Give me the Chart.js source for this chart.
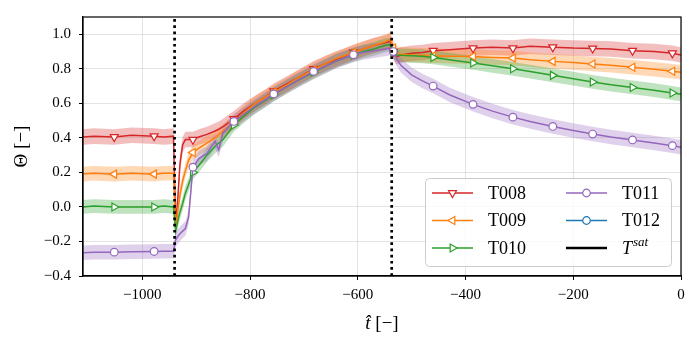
<!DOCTYPE html>
<html>
<head>
<meta charset="utf-8">
<script src="https://cdn.jsdelivr.net/npm/chart.js@4.4.1/dist/chart.umd.min.js"></script>
<style>
  html, body { margin: 0; padding: 0; background: #fff; }
</style>
</head>
<body>
<canvas id="grafico" width="697" height="343"></canvas>
<script>
// tiempos comunes de todas las series
const tiempos = [-1110, -1090, -1052, -1020, -978, -960, -942,
  -938, -934, -930, -925, -920, -914, -906, -895, -880, -865, -858, -850,
  -830, -810, -790, -770, -756, -730, -710, -682, -660, -640,
  -608, -590, -570, -550, -540, -534, -528, -520, -500, -480,
  -460, -430, -386, -350, -312, -280, -238, -200, -164, -130,
  -90, -50, -16, 0];
const marcas = [-1052, -978, -906, -830, -756, -682, -608, -534, -460, -386, -312, -238, -164, -90, -16];

const t008 = [0.405, 0.41, 0.405, 0.415, 0.41, 0.405, 0.41,
  -0.10, 0.05, 0.25, 0.36, 0.39, 0.39, 0.39, 0.405, 0.42, 0.44, 0.45, 0.465,
  0.51, 0.56, 0.60, 0.64, 0.67, 0.715, 0.75, 0.80, 0.83, 0.855,
  0.895, 0.915, 0.935, 0.95, 0.96, 0.90, 0.87, 0.88, 0.89, 0.895,
  0.905, 0.91, 0.92, 0.925, 0.92, 0.93, 0.925, 0.92, 0.918, 0.915,
  0.905, 0.90, 0.89, 0.88];
const t009 = [0.19, 0.195, 0.19, 0.195, 0.19, 0.195, 0.195,
  -0.12, -0.02, 0.07, 0.15, 0.21, 0.27, 0.315, 0.34, 0.37, 0.40, 0.42, 0.44,
  0.49, 0.55, 0.60, 0.64, 0.665, 0.71, 0.75, 0.795, 0.83, 0.86,
  0.895, 0.915, 0.935, 0.955, 0.97, 0.92, 0.89, 0.885, 0.88, 0.878,
  0.875, 0.873, 0.871, 0.866, 0.862, 0.852, 0.843, 0.836, 0.828, 0.82,
  0.809, 0.798, 0.786, 0.78];
const t010 = [0.0, 0.005, 0.0, 0.0, 0.0, 0.005, 0.0,
  -0.14, -0.08, -0.03, 0.02, 0.08, 0.13, 0.20, 0.24, 0.30, 0.35, 0.37, 0.39,
  0.475, 0.53, 0.58, 0.62, 0.65, 0.70, 0.735, 0.78, 0.815, 0.845,
  0.88, 0.90, 0.915, 0.935, 0.94, 0.90, 0.88, 0.878, 0.875, 0.872,
  0.866, 0.853, 0.834, 0.817, 0.80, 0.784, 0.762, 0.743, 0.724, 0.708,
  0.692, 0.676, 0.66, 0.652];
const t011 = [-0.265, -0.263, -0.262, -0.26, -0.258, -0.257, -0.256,
  -0.19, -0.17, -0.155, -0.14, -0.125, -0.06, 0.23, 0.28, 0.31, 0.38, 0.33, 0.43,
  0.495, 0.54, 0.585, 0.625, 0.654, 0.70, 0.735, 0.785, 0.815, 0.845,
  0.881, 0.895, 0.905, 0.915, 0.92, 0.90, 0.86, 0.82, 0.765, 0.73,
  0.70, 0.65, 0.594, 0.555, 0.52, 0.495, 0.466, 0.443, 0.422, 0.405,
  0.388, 0.37, 0.355, 0.345];
const t012 = [];

const nombres = ["T008", "T009", "T010", "T011", "T012"];
const anchos = [0.045, 0.042, 0.04, 0.042, 0.04];
const cambios = [-940, -537];

const ticksX = [-1000, -800, -600, -400, -200, 0];
const ticksY = [-0.4, -0.2, 0, 0.2, 0.4, 0.6, 0.8, 1.0];
const xMin = -1110, xMax = 0, yMin = -0.4, yMax = 1.1;

const colores = ["#d62728", "#ff7f0e", "#2ca02c", "#9467bd", "#1f77b4"];
const bandas = ["rgba(214,39,40,0.3)", "rgba(255,127,14,0.3)", "rgba(44,160,44,0.3)", "rgba(148,103,189,0.3)", "rgba(31,119,180,0.3)"];
const formas = ["triangle", "triangle", "triangle", "circle", "circle"];
const giros = [180, 270, 90, 0, 0];
const radios = [4.6, 4.6, 4.6, 3.8, 3.8];
const fuente = "'Liberation Serif', 'DejaVu Serif', serif";

const series = [t008, t009, t010, t011, t012];
const datasets = [];

series.forEach((valores, i) => {
    const puntos = (d) => valores.map((v, k) => ({ x: tiempos[k], y: v + d }));
    datasets.push({ data: puntos(-anchos[i]), borderColor: "transparent", borderWidth: 0, pointRadius: 0, fill: false, order: 30 - i });
    datasets.push({ data: puntos(anchos[i]), borderColor: "transparent", borderWidth: 0, pointRadius: 0, fill: "-1", backgroundColor: bandas[i], order: 30 - i });
});

series.forEach((valores, i) => {
    datasets.push({
        label: nombres[i],
        data: valores.map((v, k) => ({ x: tiempos[k], y: v })),
        borderColor: colores[i],
        borderWidth: 1.5,
        fill: false,
        tension: 0,
        pointStyle: formas[i],
        rotation: giros[i],
        pointRadius: (ctx) => marcas.includes(tiempos[ctx.dataIndex]) ? radios[i] : 0,
        pointBackgroundColor: "#fff",
        pointBorderColor: colores[i],
        pointBorderWidth: 1.2,
        order: 10 - i,
    });
});

cambios.forEach((t) => {
    datasets.push({
        data: [{ x: t, y: yMin }, { x: t, y: yMax }],
        borderColor: "#000",
        borderWidth: 2.7,
        borderDash: [2.7, 3.5],
        pointRadius: 0,
        fill: false,
        order: 0,
    });
});

function dibujarMarcador(c, forma, giro, x, y, r, color) {
    c.save();
    c.translate(x, y);
    c.rotate(giro * Math.PI / 180);
    c.beginPath();
    if (forma === "circle") {
        c.arc(0, 0, r, 0, 2 * Math.PI);
    } else {
        c.moveTo(0, -r);
        c.lineTo(r * 0.866, r * 0.5);
        c.lineTo(-r * 0.866, r * 0.5);
        c.closePath();
    }
    c.fillStyle = "#fff";
    c.fill();
    c.lineWidth = 1.2;
    c.strokeStyle = color;
    c.stroke();
    c.restore();
}

const extras = {
    id: "extras",
    afterDraw(chart) {
        const c = chart.ctx;
        const a = chart.chartArea;
        c.save();
        // marco
        c.strokeStyle = "#000";
        c.lineWidth = 1.2;
        c.strokeRect(a.left, a.top, a.right - a.left, a.bottom - a.top);

        // leyenda
        const w = 246, h = 88;
        const bx = a.right - 10 - w, by = a.bottom - 10 - h;
        c.beginPath();
        c.roundRect(bx + 0.5, by + 0.5, w, h, 4);
        c.fillStyle = "rgba(255,255,255,0.8)";
        c.fill();
        c.strokeStyle = "#cccccc";
        c.lineWidth = 1;
        c.stroke();

        const filas = [15, 42.5, 70];
        const columnas = [7, 141];
        const entradas = [0, 1, 2, 3, 4, 5];
        c.textBaseline = "middle";
        entradas.forEach((k) => {
            const col = k < 3 ? 0 : 1;
            const fila = k % 3;
            const x0 = bx + columnas[col];
            const y0 = by + filas[fila];
            c.beginPath();
            c.moveTo(x0, y0);
            c.lineTo(x0 + 41, y0);
            if (k < 5) {
                c.strokeStyle = colores[k];
                c.lineWidth = 1.5;
                c.stroke();
                dibujarMarcador(c, formas[k], giros[k], x0 + 20.5, y0, radios[k], colores[k]);
                c.fillStyle = "#000";
                c.font = "18px " + fuente;
                c.fillText(nombres[k], x0 + 56, y0 + 1);
            } else {
                c.strokeStyle = "#000";
                c.lineWidth = 2.5;
                c.stroke();
                c.fillStyle = "#000";
                c.font = "italic 18px " + fuente;
                c.fillText("T", x0 + 56, y0 + 1);
                const wt = c.measureText("T").width;
                c.font = "italic 13px " + fuente;
                c.fillText("sat", x0 + 56 + wt + 1, y0 - 5);
            }
        });

        // titulo eje x
        const cx = (a.left + a.right) / 2;
        c.fillStyle = "#000";
        c.textBaseline = "alphabetic";
        c.font = "italic 19px " + fuente;
        const t1 = "t\u0302";
        const w1 = c.measureText(t1).width;
        c.font = "19px " + fuente;
        const t2 = " [\u2212]";
        const w2 = c.measureText(t2).width;
        const x1 = cx - (w1 + w2) / 2;
        c.font = "italic 19px " + fuente;
        c.fillText(t1, x1, 329);
        c.font = "19px " + fuente;
        c.fillText(t2, x1 + w1, 329);
        c.restore();
    },
};

const etiqueta = (v) => {
    const s = Math.abs(v) < 1e-9 ? "0.0" : Math.abs(v).toFixed(1);
    return v < -1e-9 ? "\u2212" + s : s;
};

new Chart(document.getElementById("grafico"), {
    type: "line",
    data: { datasets },
    options: {
        responsive: false,
        animation: false,
        devicePixelRatio: 1,
        layout: { padding: { top: 12, right: 16, bottom: 0, left: 0 } },
        plugins: { legend: { display: false }, tooltip: { enabled: false } },
        scales: {
            x: {
                type: "linear",
                min: xMin,
                max: xMax,
                afterBuildTicks: (s) => { s.ticks = ticksX.map((v) => ({ value: v })); },
                afterFit: (s) => { s.height = 67; },
                grid: { color: "rgba(0,0,0,0.11)", lineWidth: 1, tickColor: "#000", tickWidth: 1, tickLength: 4 },
                border: { color: "#000", width: 1.2 },
                ticks: {
                    color: "#000",
                    padding: 6,
                    maxRotation: 0,
                    font: { family: fuente, size: 15 },
                    callback: (v) => (v < 0 ? "\u2212" + Math.abs(v) : String(v)),
                },
            },
            y: {
                type: "linear",
                min: yMin,
                max: yMax,
                afterBuildTicks: (s) => { s.ticks = ticksY.map((v) => ({ value: v })); },
                afterFit: (s) => { s.width = 83; },
                grid: { color: "rgba(0,0,0,0.11)", lineWidth: 1, tickColor: "#000", tickWidth: 1, tickLength: 4 },
                border: { color: "#000", width: 1.2 },
                title: {
                    display: true,
                    text: "\u0398 [\u2212]",
                    color: "#000",
                    font: { family: fuente, size: 19 },
                    padding: { top: 11, bottom: 0 },
                },
                ticks: {
                    color: "#000",
                    padding: 8,
                    font: { family: fuente, size: 15 },
                    callback: etiqueta,
                },
            },
        },
    },
    plugins: [extras],
});
</script>
</body>
</html>
